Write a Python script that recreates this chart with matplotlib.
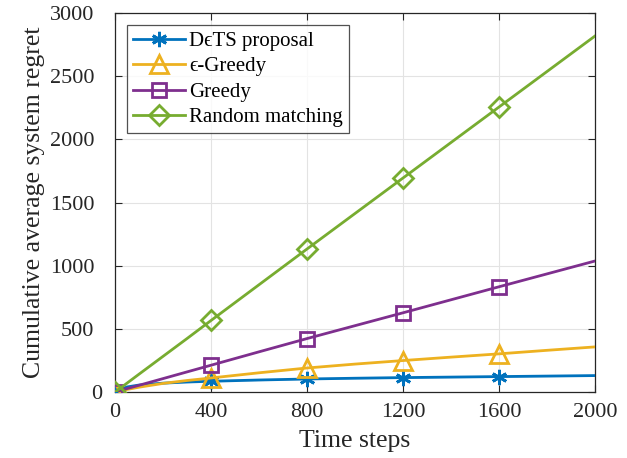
import matplotlib
matplotlib.use("Agg")
import matplotlib.pyplot as plt
import matplotlib.transforms as mtransforms
import numpy as np

plt.rcParams['font.family'] = ['Liberation Serif', 'DejaVu Serif']
plt.rcParams['mathtext.fontset'] = 'stix'

# time steps at which regret was recorded
steps = [1, 50, 100, 200, 300, 400, 600, 800, 1000, 1200, 1400, 1600, 1800, 2000]

dets_regret = [0, 40, 55, 70, 79, 85, 95, 103, 109, 114, 118, 122, 126, 130]
eps_greedy_regret = [0, 20, 38, 68, 91, 111, 152, 190, 221, 249, 276, 302, 330, 357]
greedy_regret = [0, 27, 53, 106, 159, 212, 318, 423, 525, 627, 730, 833, 935, 1037]
random_regret = [0, 70, 141, 282, 423, 566, 849, 1132, 1413, 1694, 1975, 2256, 2537, 2818]
dets_spread = [0, 3, 4, 5, 5, 5, 5, 5, 5, 5, 5, 5, 5, 5]

labels = ['D\u03f5TS proposal', '\u03f5-Greedy', 'Greedy', 'Random matching']
colors = ['#0072BD', '#EDB120', '#7E2F8E', '#77AC30']
markers = [(6, 2, 0), '^', 's', 'D']
marker_sizes = [11, 13, 10, 10]
marker_idx = [0, 5, 7, 9, 11]

x_ticks = [0, 400, 800, 1200, 1600, 2000]
y_ticks = [0, 500, 1000, 1500, 2000, 2500, 3000]

fig = plt.figure(figsize=(6.27, 4.58), dpi=100)
ax = fig.add_axes([0.1834, 0.1441, 0.7656, 0.8275])

x = np.array(steps)
d = np.array(dets_regret)
s = np.array(dets_spread)
ax.fill_between(x, d - s, d + s, color=colors[0], alpha=0.2, linewidth=0, zorder=2)

series = [dets_regret, eps_greedy_regret, greedy_regret, random_regret]
for vals, lab, c, m, ms in zip(series, labels, colors, markers, marker_sizes):
    ax.plot(steps, vals, color=c, linewidth=2, marker=m, markersize=ms,
            markevery=marker_idx, markerfacecolor='none', markeredgecolor=c,
            markeredgewidth=2, label=lab, zorder=3)

ax.set_xlim(0, 2000)
ax.set_ylim(0, 3000)
ax.set_xticks(x_ticks)
ax.set_yticks(y_ticks)
ax.tick_params(direction='in', top=True, right=True, labelsize=16,
               colors='#262626', length=5, width=0.8)
ax.tick_params(axis='x', pad=8)
ax.tick_params(axis='y', pad=15)
ax.grid(True, color='#e3e3e3', linewidth=0.8)
ax.set_axisbelow(True)
for sp in ax.spines.values():
    sp.set_color('#262626')
    sp.set_linewidth(0.9)

fig.canvas.draw()
# nudge the zero label of the y axis toward the axis line
zero_lbl = ax.yaxis.get_major_ticks()[0].label1
zero_lbl.set_transform(zero_lbl.get_transform() +
                       mtransforms.ScaledTranslation(8 / 100, 0, fig.dpi_scale_trans))

ax.set_xlabel('Time steps', fontsize=18.5, color='#262626', labelpad=6)
ax.set_ylabel('Cumulative average system regret', fontsize=18.5, color='#262626', labelpad=3)

leg = ax.legend(loc='upper left', bbox_to_anchor=(0.025, 0.968), fontsize=15,
                frameon=True, fancybox=False, edgecolor='#262626',
                handlelength=2.5, handletextpad=0.2, borderpad=0.3,
                labelspacing=0.28, borderaxespad=0)
leg.get_frame().set_linewidth(0.9)

fig.savefig('out.png', dpi=100)
